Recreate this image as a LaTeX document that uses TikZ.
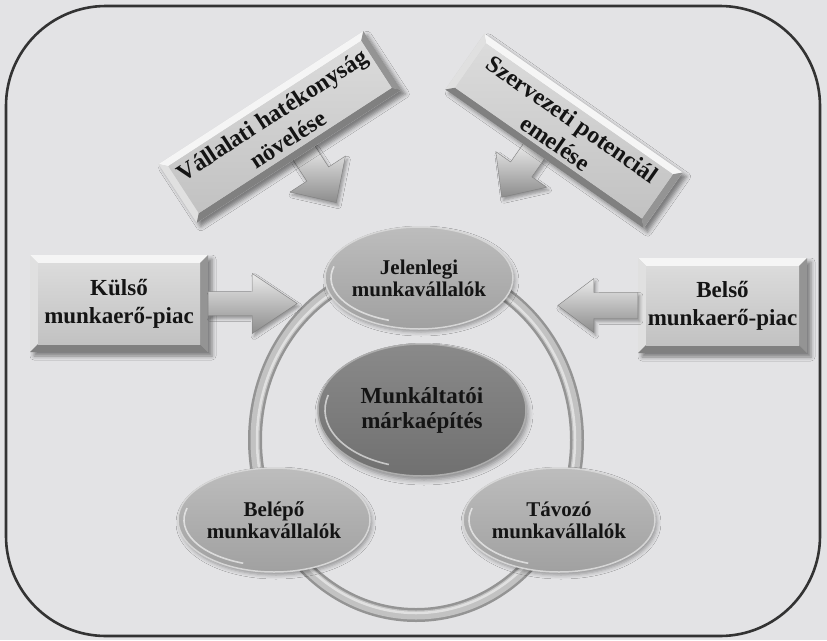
\documentclass[tikz,border=0pt]{standalone}
\usepackage{fontspec}
\setmainfont{Liberation Serif}
\usetikzlibrary{shapes.geometric,shadows.blur,calc}
\definecolor{bgc}{HTML}{E3E3E5}
\definecolor{framec}{HTML}{333333}
\definecolor{facec}{HTML}{D2D2D3}
\definecolor{txtc}{HTML}{141414}
\tikzset{
  btext/.style={font=\bfseries\fontsize{23}{28}\selectfont, text=txtc, align=center, inner sep=0pt},
  ttext/.style={font=\bfseries\fontsize{24}{29}\selectfont, text=txtc, align=center, inner sep=0pt},
  etext/.style={font=\bfseries\fontsize{21}{22}\selectfont, text=txtc, align=center},
  ell/.style={ellipse, draw=white!84!black, line width=1.5pt, top color=white!74!black, bottom color=white!63!black,
     inner sep=0pt, blur shadow={shadow xshift=2pt, shadow yshift=-3pt, shadow blur radius=4pt, shadow opacity=35}},
  cell/.style={ellipse, draw=white!68!black, line width=1.5pt, top color=white!54!black, bottom color=white!44!black,
     inner sep=0pt, blur shadow={shadow xshift=2pt, shadow yshift=-4pt, shadow blur radius=5pt, shadow opacity=40}},
  arrowfill/.style={top color=white!92!black, bottom color=white!55!black, draw=white!50!black, line width=0.4pt,
     blur shadow={shadow xshift=2pt, shadow yshift=-3pt, shadow blur radius=3pt, shadow opacity=35}},
  hilite/.style={white, opacity=0.6, line width=1.6pt},
}
% bevelled box centred at local origin: width, height, bevel
\newcommand{\bevelbox}[3]{%
  \pgfmathsetmacro\hw{#1/2}\pgfmathsetmacro\hh{#2/2}%
  \pgfmathsetmacro\ix{#1/2-#3}\pgfmathsetmacro\iy{#2/2-#3}%
  \fill[facec, blur shadow={shadow xshift=4pt, shadow yshift=-4pt, shadow blur radius=4pt, shadow opacity=45}]
     (-\hw,-\hh) rectangle (\hw,\hh);
  \fill[white!96!black] (-\hw,-\hh) -- (\hw,-\hh) -- (\ix,-\iy) -- (-\ix,-\iy) -- cycle;
  \fill[white!88!black] (-\hw,-\hh) -- (-\ix,-\iy) -- (-\ix,\iy) -- (-\hw,\hh) -- cycle;
  \fill[white!58!black] (\hw,-\hh) -- (\hw,\hh) -- (\ix,\iy) -- (\ix,-\iy) -- cycle;
  \fill[white!50!black] (-\hw,\hh) -- (\hw,\hh) -- (\ix,\iy) -- (-\ix,\iy) -- cycle;
  \shade[top color=white!86!black, bottom color=white!76!black] (-\ix,-\iy) rectangle (\ix,\iy);
}
% block arrow from local origin pointing along +x: length, shaft, head width, head length
\newcommand{\blockarrow}[4]{%
  \pgfmathsetmacro\sa{#2/2}\pgfmathsetmacro\ha{#3/2}\pgfmathsetmacro\hb{#1-#4}%
  \path[arrowfill] (0,-\sa) -- (\hb,-\sa) -- (\hb,-\ha) -- (#1,0) -- (\hb,\ha) -- (\hb,\sa) -- (0,\sa) -- cycle;
}
\begin{document}
\begin{tikzpicture}[x=1pt,y=-1pt]
\useasboundingbox (0,0) rectangle (827,640);
\fill[bgc] (0,0) rectangle (827,640);
\draw[framec, line width=2.6pt, rounded corners=100pt] (6,6) rectangle (820,636);

% ring
\draw[white!58!black, line width=14pt] (416,440) ellipse [x radius=161, y radius=175];
\draw[white!76!black, line width=9pt] (416,440) ellipse [x radius=161, y radius=175];
\draw[white!88!black, line width=2.5pt] (416,440) ellipse [x radius=159, y radius=173];

% left side box
\begin{scope}[shift={(119,303.5)}]
  \bevelbox{178}{97}{8}
  \node[btext, minimum width=178pt, minimum height=97pt] (kulso) at (0,0) {Külső\\munkaerő-piac};
\end{scope}
\begin{scope}[shift={(kulso.east)}]
  \blockarrow{89}{24}{60}{45}
\end{scope}

% right side box
\begin{scope}[shift={(722.5,305.5)}]
  \bevelbox{169}{95}{8}
  \node[btext, minimum width=169pt, minimum height=95pt] (belso) at (0,0) {Belső\\munkaerő-piac};
\end{scope}
\begin{scope}[shift={(belso.west)}, rotate=180]
  \blockarrow{80}{26}{54}{36}
\end{scope}

% tilted box left
\begin{scope}[shift={(280,127)}, rotate=33, transform shape]
  \begin{scope}[shift={(6,34)}, rotate=-90]
    \blockarrow{60}{26}{66}{34}
  \end{scope}
  \bevelbox{244}{70}{7}
  \node[ttext, minimum width=244pt, minimum height=70pt] (vh) at (0,0) {Vállalati hatékonyság\\növelése};
\end{scope}

% tilted box right
\begin{scope}[shift={(564,131)}, rotate=-35, transform shape]
  \begin{scope}[shift={(-13,33)}, rotate=-90]
    \blockarrow{57}{26}{62}{34}
  \end{scope}
  \bevelbox{242}{68}{7}
  \node[ttext, minimum width=242pt, minimum height=68pt] (szp) at (0,0) {Szervezeti potenciál\\emelése};
\end{scope}

% ellipses
\node[ell, minimum width=188pt, minimum height=102pt] (jel) at (419,278) {};
\node[etext] at (jel.center) {Jelenlegi\\munkavállalók};
\node[cell, minimum width=208pt, minimum height=132pt] (mk) at (422,410) {};
\node[etext, font=\bfseries\fontsize{23}{25}\selectfont] at (mk.center) {Munkáltatói\\márkaépítés};
\node[ell, minimum width=192pt, minimum height=104pt] (bel) at (274,520) {};
\node[etext] at (bel.center) {Belépő\\munkavállalók};
\node[ell, minimum width=192pt, minimum height=104pt] (tav) at (559,520) {};
\node[etext] at (tav.center) {Távozó\\munkavállalók};

% highlights
\draw[hilite] (419,278) ++(110:{88} and {45}) arc[start angle=110, end angle=195, x radius=88, y radius=45];
\draw[hilite] (422,410) ++(110:{97} and {58}) arc[start angle=110, end angle=195, x radius=97, y radius=58];
\draw[hilite] (274,520) ++(110:{90} and {46}) arc[start angle=110, end angle=195, x radius=90, y radius=46];
\draw[hilite] (559,520) ++(110:{90} and {46}) arc[start angle=110, end angle=195, x radius=90, y radius=46];
\end{tikzpicture}
\end{document}
